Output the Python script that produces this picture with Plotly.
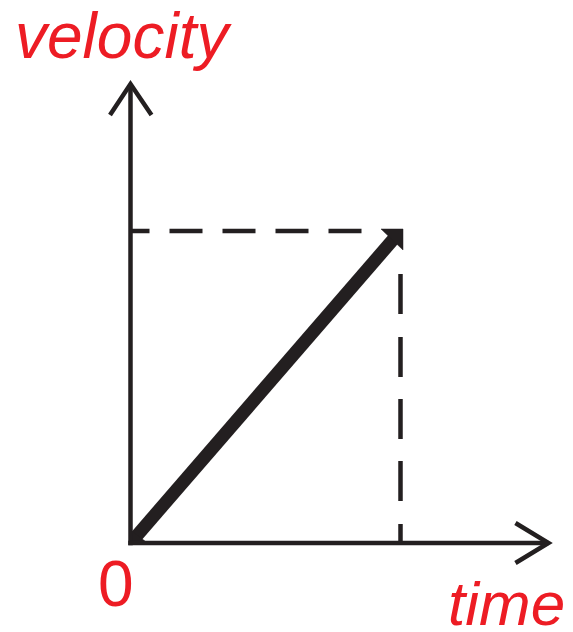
import math
import plotly.graph_objects as go

# ---- data ----
time = [0.0, 1.0]
velocity = [0.0, 1.0]
time_axis_end = 1.548
velocity_axis_end = 1.471
origin_label = "0"
x_label = "time"
y_label = "velocity"

# ---- layout helpers ----
PAGE_OFF = 8                    # default body margin of the html page
W, H = 573 - PAGE_OFF, 632 - PAGE_OFF
OX, OY = 130.5 - PAGE_OFF, 543.0 - PAGE_OFF   # origin in figure pixels
SX, SY = 270.0, 312.0          # pixels per unit on each axis


def dx(p):
    return p / SX


def dy(p):
    return p / SY


INK = "#231F20"
RED = "#ED1C24"

fig = go.Figure()


def add_line(xs, ys, width, dash=None, color=INK):
    fig.add_trace(go.Scatter(
        x=xs, y=ys, mode="lines",
        line=dict(color=color, width=width, dash=dash),
        hoverinfo="skip", showlegend=False))


def add_poly(xs, ys):
    fig.add_trace(go.Scatter(
        x=xs + [xs[0]], y=ys + [ys[0]], mode="lines", fill="toself",
        fillcolor=INK, line=dict(width=0.5, color=INK),
        hoverinfo="skip", showlegend=False))


t0, t1 = time
v0, v1 = velocity

# dashed guide lines
add_line([t0, t1], [v1, v1], 4.5,
         dash="19px,20px,33px,20px,33px,20px,33px,20px,33px,100px")
add_line([t1, t1], [v0, v1], 4.5,
         dash="19px,23px,40px,22px,40px,22px,40px,23px,40px,60px")

# thick velocity line
L = math.hypot(SX * (t1 - t0), SY * (v1 - v0))
ux, uy = SX * (t1 - t0) / L, SY * (v1 - v0) / L
inset = 7
add_line([t0 + dx(ux * inset), t1 - dx(ux * inset)],
         [v0 + dy(uy * inset), v1 - dy(uy * inset)], 13)
# end flags
add_poly([t1 - dx(19.5), t1 + dx(2.5), t1 + dx(2.5)],
         [v1 + dy(2), v1 + dy(2), v1 - dy(19)])
add_poly([t0, t0 + dx(17), t0],
         [v0, v0, v0 + dy(13)])

# axes
add_line([t0, t0], [v0 - dy(2.25), velocity_axis_end], 4.5)
add_line([t0 - dx(2.25), time_axis_end], [v0, v0], 4.5)
# arrow heads
add_line([t0 - dx(20.5), t0, t0 + dx(21)],
         [velocity_axis_end - dy(31), velocity_axis_end, velocity_axis_end - dy(31)], 4.5)
add_line([time_axis_end - dx(33), time_axis_end, time_axis_end - dx(33)],
         [v0 + dy(20), v0, v0 - dy(20)], 4.5)


def label(text, px, py, size, italic):
    # px, py are page pixels
    fig.add_annotation(
        text=text, xref="paper", yref="paper",
        x=(px - PAGE_OFF) / W, y=1 - (py - PAGE_OFF) / H,
        xanchor="left", yanchor="middle",
        showarrow=False,
        font=dict(family="Liberation Sans, Arial, sans-serif", size=size,
                  color=RED, style="italic" if italic else "normal"))


label(y_label, 13, 36, 64, True)
label(origin_label, 96, 584, 64, False)
label(x_label, 446, 603, 62, True)

fig.update_layout(
    width=W, height=H,
    margin=dict(l=0, r=0, t=0, b=0),
    paper_bgcolor="white", plot_bgcolor="white",
    xaxis=dict(visible=False, range=[-OX / SX, (W - OX) / SX], fixedrange=True),
    yaxis=dict(visible=False, range=[(OY - H) / SY, OY / SY], fixedrange=True),
    showlegend=False,
)

fig.write_html("out.html")
